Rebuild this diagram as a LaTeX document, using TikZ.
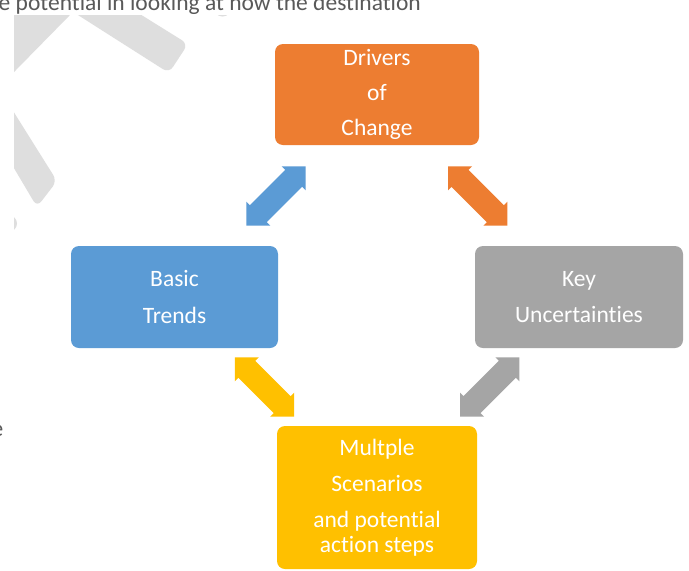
\documentclass[tikz,border=0pt]{standalone}
\usepackage{fontspec}
\setmainfont{Carlito}[Ligatures={TeX,NoCommon}]
\definecolor{cyorange}{HTML}{ED7D31}
\definecolor{cyblue}{HTML}{5B9BD5}
\definecolor{cygray}{HTML}{A5A5A5}
\definecolor{cyyellow}{HTML}{FFC000}
\definecolor{txtgray}{HTML}{595959}
\definecolor{markgray}{HTML}{DEDEDE}
% double-headed block arrow: centre x, centre y, angle, colour
\newcommand{\dblarrow}[4]{%
  \fill[#4, shift={(#1,#2)}, rotate=#3]
    (-42,0) -- (-25,17) -- (-25,12) -- (25,12) -- (25,17) -- (42,0)
    -- (25,-17) -- (25,-12) -- (-25,-12) -- (-25,-17) -- cycle;}
\begin{document}
\begin{tikzpicture}[x=1pt,y=-1pt,
  cyclebox/.style={rounded corners=8pt, inner sep=0pt, text=white, align=center,
    font=\fontsize{23.5}{25}\selectfont},
  bodytext/.style={inner sep=0pt, text=txtgray, font=\fontsize{23.5}{28}\selectfont}]
% page
\fill[white] (0,0) rectangle (689,571);
\useasboundingbox (0,0) rectangle (689,571);

% faint logo shapes behind the cycle
\begin{scope}
  \clip (14,15) rectangle (320,320);
  \fill[markgray] (0,0) -- (84.7,0) -- (0,86.3) -- cycle;
  \fill[markgray, rounded corners=7pt] (62.2,5) -- (169,73) -- (188,44) -- (125.4,5) -- cycle;
  \fill[markgray, rounded corners=7pt] (0,90.1) -- (57,181) -- (37,207) -- (0,144.5) -- cycle;
  \fill[markgray] (9,223.5) circle (8);
  \fill[markgray] (222.5,7.5) circle (9);
\end{scope}

% surrounding body text
\node[bodytext, anchor=base west] (toptext) at (-1.5,10.7) {e potential in looking at how the destination};
\node[bodytext, anchor=base east] (lefttext) at (3.5,436.5) {e};

% connecting arrows
\dblarrow{276}{196}{45}{cyblue}
\dblarrow{477.7}{196}{-45}{cyorange}
\dblarrow{264.5}{387}{-45}{cyyellow}
\dblarrow{489.7}{387}{45}{cygray}

% the four stages
\node[cyclebox, fill=cyorange, minimum width=204pt, minimum height=101pt] (drivers) at (377,94.5)
  {Drivers\\[10pt]of\\[10pt]Change};
\node[cyclebox, fill=cyblue, minimum width=207pt, minimum height=102pt] (trends) at (174.5,297)
  {Basic\\[11.5pt]Trends};
\node[cyclebox, fill=cygray, minimum width=208pt, minimum height=102pt] (uncert) at (579,297)
  {Key\\[11.5pt]Uncertainties};
\node[cyclebox, fill=cyyellow, minimum width=200pt, minimum height=143pt] (scen) at (377,497.5)
  {Multple\\[11.3pt]Scenarios\\[11pt]and potential\\action steps};
\end{tikzpicture}
\end{document}
